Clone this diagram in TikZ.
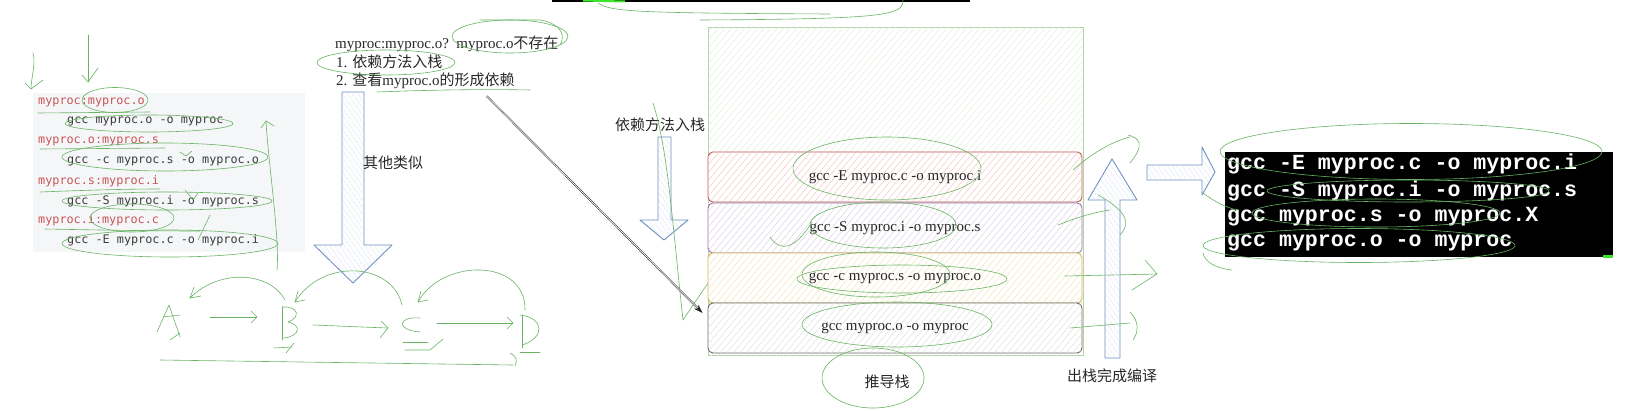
\documentclass[tikz,border=0pt]{standalone}
\usepackage{fontspec}
\setmainfont{Liberation Serif}
\newfontfamily\cjk{Noto Sans CJK SC}
\newfontfamily\codef{DejaVu Sans Mono}
\newfontfamily\termf{Liberation Mono}
\usetikzlibrary{patterns.meta,arrows.meta,calc}
\definecolor{scr}{RGB}{105,180,100}
\definecolor{lime}{RGB}{60,230,40}
\definecolor{codebg}{RGB}{245,246,248}
\definecolor{codered}{RGB}{200,85,85}
\definecolor{codegray}{RGB}{60,60,60}
\definecolor{txt}{RGB}{40,40,40}
\definecolor{bluedraw}{HTML}{6C8EBF}
\definecolor{bluehatch}{HTML}{BFD1EC}
\definecolor{greendraw}{HTML}{B5D3A5}
\definecolor{greenhatch}{HTML}{E3EFDF}
\definecolor{reddraw}{HTML}{B85450}
\definecolor{redhatch}{HTML}{F4C6C4}
\definecolor{purpdraw}{HTML}{9673A6}
\definecolor{purphatch}{HTML}{DCD3E4}
\definecolor{yeldraw}{HTML}{D6B656}
\definecolor{yelhatch}{HTML}{F3E6B8}
\definecolor{graydraw}{HTML}{666666}
\definecolor{grayhatch}{HTML}{E0E0E0}
\newcommand\hell[4]{\draw[scrib] ($(#1,#2)+(195:#3 and #4)$) arc[start angle=195,end angle=575,x radius=#3,y radius=#4];}
\tikzset{
  scrib/.style={draw=scr,line width=0.6pt,line cap=round,line join=round},
  hatchfill/.style={postaction={pattern={Lines[angle=50,distance=5pt,line width=0.5pt]},pattern color=#1}},
  bhatchfill/.style={postaction={pattern={Lines[angle=-55,distance=4pt,line width=0.5pt]},pattern color=#1}},
  codered/.style={anchor=west,inner sep=0pt,font=\codef\fontsize{11.8}{13}\selectfont,text=codered},
  codegray/.style={anchor=west,inner sep=0pt,font=\codef\fontsize{11.8}{13}\selectfont,text=codegray},
  note/.style={anchor=west,inner sep=0pt,font=\fontsize{15}{17}\selectfont,text=txt},
  cjknote/.style={inner sep=0pt,font=\cjk\fontsize{15}{17}\selectfont,text=txt},
  stackbox/.style={minimum width=374pt,minimum height=50pt,rounded corners=5pt,line width=0.9pt,inner sep=0pt,font=\fontsize{15}{17}\selectfont,text=txt},
  termline/.style={anchor=west,inner sep=0pt,font=\termf\bfseries\fontsize{21.6}{23}\selectfont,text=white},
  bluearrow/.style={draw=bluedraw,line width=0.9pt,fill=white,bhatchfill=bluehatch,line join=round}
}
\begin{document}
\begin{tikzpicture}[x=1pt,y=-1pt]
\useasboundingbox (0,0) rectangle (1630,410);
\fill[white] (0,0) rectangle (1630,410);

% top black line
\draw[black,line width=1.6pt] (552,1) -- (970,1);
\draw[lime,line width=2pt] (583,0.5) -- (625,1.5);
\draw[scrib] (598,3) .. controls (610,12) and (640,13) .. (830,14);
\draw[scrib] (903,0) .. controls (903,15) and (890,19) .. (700,20);
\draw[scrib] (480,20) -- (540,20) .. controls (555,22) and (568,32) .. (560,45);

% code block
\fill[codebg] (33,93) rectangle (305,252);
\node[codered] (c1) at (38,102) {myproc:myproc.o};
\node[codegray] (c2) at (67,121) {gcc myproc.o -o myproc};
\node[codered] (c3) at (38,141) {myproc.o:myproc.s};
\node[codegray] (c4) at (67,161) {gcc -c myproc.s -o myproc.o};
\node[codered] (c5) at (38,181) {myproc.s:myproc.i};
\node[codegray] (c6) at (67,201) {gcc -S myproc.i -o myproc.s};
\node[codered] (c7) at (38,220) {myproc.i:myproc.c};
\node[codegray] (c8) at (67,240) {gcc -E myproc.c -o myproc.i};

% scribbles on code block
\draw[scrib] (33,53) .. controls (36,65) and (31,78) .. (31,89);
\draw[scrib] (25,83) -- (31,89) -- (43,80);
\draw[scrib] (88,35) -- (88,82);
\draw[scrib] (82,75) -- (88,82) -- (98,68);
\hell{115}{100}{33}{12.5}
\draw[scrib] (38,113) -- (150,112);
\hell{149}{123.5}{84}{8.5}
\draw[scrib] (40,149) -- (165,148);
\hell{165}{157}{103}{14}
\draw[scrib] (40,192) .. controls (90,190) and (130,189) .. (160,189);
\hell{167}{201}{105}{9}
\hell{132}{218}{42}{14}
\draw[scrib] (45,229) .. controls (100,230) and (150,231) .. (200,231);
\hell{170}{243.5}{108}{13.5}
\draw[scrib] (180,152) -- (186,156) -- (192,151);
\draw[scrib] (185,190) -- (193,200) -- (198,193);
\draw[scrib] (198,240) -- (210,215);
\draw[scrib] (277,270) .. controls (280,240) and (268,160) .. (266,121);
\draw[scrib] (261,128) -- (266,121) -- (274,126);

% middle notes
\node[note] (t1) at (335,44) {myproc:myproc.o?\ \ myproc.o{\cjk 不存在}};
\node[note] (t2) at (336,62) {1. {\cjk 依赖方法入栈}};
\node[note] (t3) at (336,81) {2. {\cjk 查看}myproc.o{\cjk 的形成依赖}};
\hell{386}{62.5}{69}{12.5}
\hell{510}{36.5}{58}{16.5}
\draw[scrib] (377,92) .. controls (430,90) and (480,89) .. (530,90);

% big blue down arrow
\draw[bluearrow] (342,92) -- (364,92) -- (364,245) -- (392,245) -- (353,283) -- (314,245) -- (342,245) -- cycle;
\node[cjknote,anchor=west] (other) at (363,163) {其他类似};

% bottom A B C D sketch
\draw[scrib] (157,332) -- (169,305) -- (180,337);
\draw[scrib] (163,317) -- (180,315);
\draw[scrib] (170,340) -- (180,333);
\draw[scrib] (210,317) -- (257,317);
\draw[scrib] (251,311) -- (257,317) -- (251,323);
\draw[scrib] (282,307) -- (282,340);
\draw[scrib] (282,307) .. controls (300,306) and (300,318) .. (288,322) .. controls (302,325) and (300,336) .. (284,338);
\draw[scrib] (274,348) -- (292,347);
\draw[scrib] (286,353) -- (294,343);
\draw[scrib] (313,325) .. controls (340,326) and (360,327) .. (388,328);
\draw[scrib] (381,321) -- (388,328) -- (380,338);
\draw[scrib] (420,318) .. controls (398,316) and (395,330) .. (420,332);
\draw[scrib] (403,342) -- (428,342);
\draw[scrib] (405,350) -- (430,350) -- (443,339);
\draw[scrib] (437,323) -- (513,323);
\draw[scrib] (507,317) -- (513,323) -- (507,329);
\draw[scrib] (522,315) -- (522,348);
\draw[scrib] (520,315) .. controls (545,318) and (545,338) .. (522,345);
\draw[scrib] (520,352) -- (540,352);
\draw[scrib] (285,300) .. controls (270,272) and (220,268) .. (190,298);
\draw[scrib] (190,298) -- (201,296); \draw[scrib] (190,298) -- (194,287);
\draw[scrib] (402,305) .. controls (392,262) and (322,258) .. (295,302);
\draw[scrib] (295,302) -- (305,300); \draw[scrib] (295,302) -- (298,291);
\draw[scrib] (525,310) .. controls (526,258) and (442,258) .. (418,302);
\draw[scrib] (418,302) -- (428,300); \draw[scrib] (418,302) -- (421,291);
\draw[scrib] (160,360) -- (513,365);
\draw[scrib] (510,353) .. controls (516,356) and (518,360) .. (515,366);

% second blue arrow
\node[cjknote,anchor=west] (push) at (615,125) {依赖方法入栈};
\draw[bluearrow] (658,137) -- (671,137) -- (671,220) -- (688,220) -- (664,240) -- (640,220) -- (658,220) -- cycle;
\draw[scrib] (653,103) .. controls (668,150) and (672,220) .. (683,320) -- (708,283);

% stack
\draw[draw=greendraw,line width=1pt,fill=white,hatchfill=greenhatch] (708,27) rectangle (1083,355);
\node[stackbox,draw=reddraw,fill=white,hatchfill=redhatch] (s1) at (895,177) {gcc -E myproc.c -o myproc.i};
\node[stackbox,draw=purpdraw,fill=white,hatchfill=purphatch] (s2) at (895,228) {gcc -S myproc.i -o myproc.s};
\node[stackbox,draw=yeldraw,fill=white,hatchfill=yelhatch] (s3) at (895,278) {gcc -c myproc.s -o myproc.o};
\node[stackbox,draw=graydraw,fill=white,hatchfill=grayhatch] (s4) at (895,328) {gcc myproc.o -o myproc};
\node[cjknote] (stk) at (887,382) {推导栈};
\hell{887}{168.5}{94}{31.5}
\hell{883}{225}{73}{23}
\draw[scrib] (770,237) .. controls (780,252) and (795,250) .. (812,222);
\hell{876}{274.5}{74}{22.5}
\hell{902}{279}{105}{14}
\hell{897}{324.5}{95}{22.5}
\hell{873}{378}{51}{30}

% black double arrow
\coordinate (from) at ($(t3.south east)+(-28,7)$);
\coordinate (to) at ($(s4.west)+(-5,-15)$);
\draw[black!85,double=white,double distance=0.7pt,line width=0.5pt,-{Stealth[length=9pt,width=6pt]}] (from) -- (to);

% up arrow
\draw[bluearrow] (1105,358) -- (1120,358) -- (1120,200) -- (1137,200) -- (1112,159) -- (1088,200) -- (1105,200) -- cycle;
\node[inner sep=0pt,font=\cjk\fontsize{15}{17}\selectfont,text=txt,anchor=west] (pop) at (1067,376) {出栈完成编译};
\draw[scrib] (1073,170) .. controls (1090,155) and (1110,142) .. (1130,137);
\draw[scrib] (1128,135) .. controls (1140,138) and (1145,145) .. (1130,163);
\draw[scrib] (1058,225) .. controls (1075,218) and (1095,212) .. (1110,210);
\draw[scrib] (1098,195) .. controls (1125,210) and (1132,222) .. (1120,235);
\draw[scrib] (1065,276) -- (1157,274);
\draw[scrib] (1145,260) -- (1157,274) -- (1132,290);
\draw[scrib] (1070,328) -- (1130,323);
\draw[scrib] (1130,312) .. controls (1140,322) and (1138,333) .. (1133,340);

% right arrow
\draw[bluearrow] (1147,165) -- (1202,165) -- (1202,147) -- (1215,172) -- (1202,195) -- (1202,180) -- (1147,180) -- cycle;

% terminal
\fill[black] (1225,152) rectangle (1613,257);
\node[termline] (g1) at (1227,164) {gcc -E myproc.c -o myproc.i};
\node[termline] (g2) at (1227,191) {gcc -S myproc.i -o myproc.s};
\node[termline] (g3) at (1227,217) {gcc myproc.s -o myproc.X};
\node[termline] (g4) at (1227,243) {gcc myproc.o -o myproc};
\fill[lime] (1603,255) rectangle (1613,258);
\hell{1411}{151.5}{191}{28}
\hell{1408}{191}{141}{11}
\draw[scrib] (1203,193) .. controls (1215,202) and (1225,207) .. (1237,210);
\hell{1376}{213}{124}{14}
\hell{1359}{245.5}{156}{17}
\draw[scrib] (1203,253) .. controls (1205,262) and (1215,268) .. (1232,270);
\end{tikzpicture}
\end{document}
